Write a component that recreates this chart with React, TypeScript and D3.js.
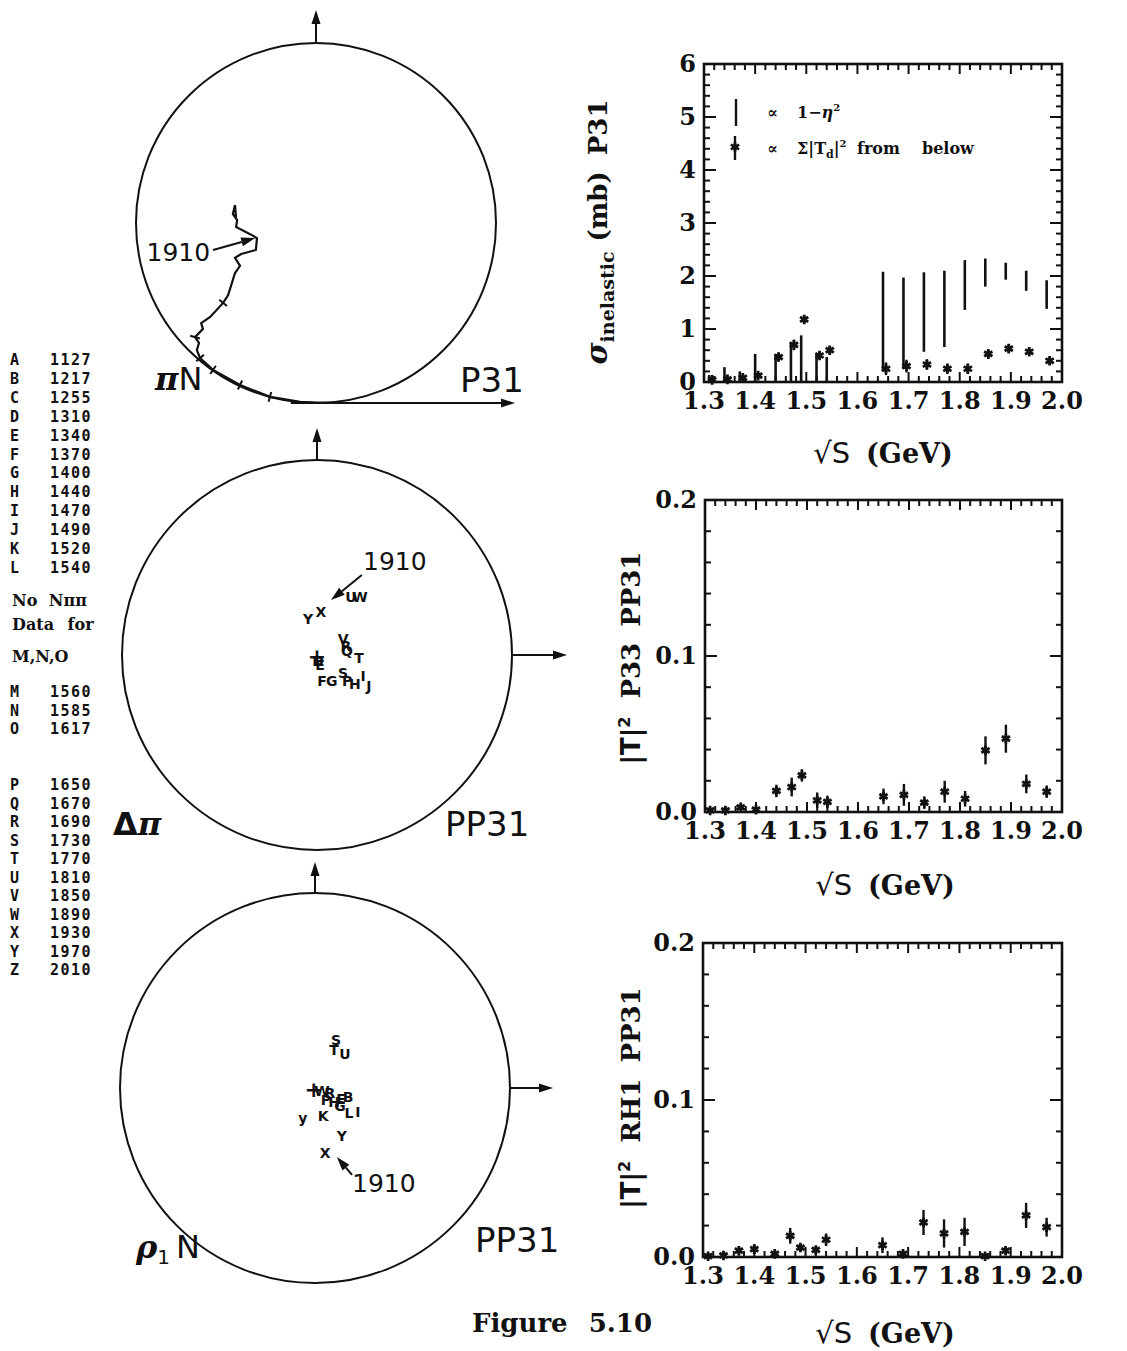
import React from 'react';
import * as d3 from 'd3';

// ---------- data ----------
const energies = [1.31, 1.34, 1.37, 1.40, 1.44, 1.47, 1.49, 1.52, 1.54, 1.65, 1.69, 1.73, 1.77, 1.81, 1.85, 1.89, 1.93, 1.97];
// proportional to 1 - eta^2 (range bars)
const etaLo = [0, 0, 0, 0, 0, 0, 0, 0, 0, 0.2, 0.25, 0.57, 0.66, 1.36, 1.8, 1.93, 1.72, 1.38];
const etaHi = [0.13, 0.28, 0.2, 0.53, 0.53, 0.75, 0.88, 0.53, 0.47, 2.08, 1.97, 2.07, 2.1, 2.3, 2.33, 2.25, 2.1, 1.92];
// proportional to sum |Td|^2 from below
const tdSum = [0.04, 0.05, 0.08, 0.12, 0.47, 0.7, 1.18, 0.5, 0.6, 0.25, 0.3, 0.33, 0.25, 0.25, 0.53, 0.63, 0.57, 0.4];
const tdSumErr = [0.03, 0.03, 0.04, 0.05, 0.08, 0.1, 0.08, 0.07, 0.06, 0.12, 0.12, 0.1, 0.1, 0.1, 0.09, 0.08, 0.07, 0.07];
// |T|^2 P33 PP31
const delPiT2 = [0.001, 0.001, 0.003, 0.0015, 0.0135, 0.016, 0.0235, 0.0075, 0.0065, 0.010, 0.011, 0.006, 0.013, 0.0085, 0.0395, 0.047, 0.018, 0.013];
const delPiErr = [0.0005, 0.0005, 0.001, 0.001, 0.004, 0.006, 0.004, 0.005, 0.004, 0.005, 0.007, 0.004, 0.007, 0.005, 0.009, 0.009, 0.006, 0.004];
// |T|^2 RH1 PP31
const rhoT2 = [0.0005, 0.001, 0.004, 0.005, 0.002, 0.0135, 0.006, 0.0045, 0.011, 0.0075, 0.002, 0.022, 0.015, 0.016, 0.0005, 0.004, 0.0265, 0.019];
const rhoErr = [0.0005, 0.0005, 0.003, 0.003, 0.001, 0.005, 0.002, 0.002, 0.004, 0.005, 0.002, 0.008, 0.009, 0.009, 0.0005, 0.002, 0.008, 0.006];

const xTickLabels = ['1.3', '1.4', '1.5', '1.6', '1.7', '1.8', '1.9', '2.0'];
const sigmaTickLabels = ['0', '1', '2', '3', '4', '5', '6'];
const t2TickLabels = ['0.0', '0.1', '0.2'];

const waveLettersA = ['A', 'B', 'C', 'D', 'E', 'F', 'G', 'H', 'I', 'J', 'K', 'L'];
const waveMassesA = [1127, 1217, 1255, 1310, 1340, 1370, 1400, 1440, 1470, 1490, 1520, 1540];
const waveLettersM = ['M', 'N', 'O'];
const waveMassesM = [1560, 1585, 1617];
const waveLettersP = ['P', 'Q', 'R', 'S', 'T', 'U', 'V', 'W', 'X', 'Y', 'Z'];
const waveMassesP = [1650, 1670, 1690, 1730, 1770, 1810, 1850, 1890, 1930, 1970, 2010];

// piN P31 Argand trajectory (Re, Im), unitarity circle
const piNRe = [0.03, -0.044, -0.128, -0.211, -0.286, -0.322, -0.331, -0.325, -0.336, -0.314, -0.319, -0.294, -0.258, -0.244, -0.225, -0.211, -0.225, -0.208, -0.167, -0.164, -0.183, -0.222, -0.219, -0.231, -0.225, -0.222];
const piNIm = [0.0, 0.003, 0.017, 0.05, 0.092, 0.125, 0.147, 0.167, 0.183, 0.206, 0.222, 0.239, 0.278, 0.3, 0.361, 0.381, 0.403, 0.414, 0.425, 0.458, 0.469, 0.489, 0.508, 0.525, 0.55, 0.514];
const piNTickIdx = [2, 3, 4, 5, 8, 12];

// Delta pi PP31 letters
const delLabels = ['Y', 'X', 'U', 'W', 'V', 'R', 'Q', 'T', '+', 'D', 'E', 'F', 'G', 'S', 'P', 'H', 'I', 'J'];
const delRe = [-0.023, 0.010, 0.087, 0.110, 0.067, 0.074, 0.077, 0.108, 0.0, 0.003, 0.008, 0.013, 0.038, 0.067, 0.077, 0.097, 0.118, 0.133];
const delIm = [0.092, 0.110, 0.149, 0.149, 0.041, 0.023, 0.011, -0.008, -0.003, -0.015, -0.025, -0.067, -0.067, -0.046, -0.067, -0.074, -0.054, -0.079];

// rho1 N PP31 letters
const rhoLabels = ['S', 'T', 'U', '+', 'W', 'R', 'P', 'H', 'E', 'B', 'G', 'L', 'I', 'K', 'y', 'Y', 'X'];
const rhoRe = [0.054, 0.049, 0.077, -0.003, 0.018, 0.038, 0.028, 0.049, 0.067, 0.085, 0.064, 0.087, 0.110, 0.021, -0.031, 0.069, 0.026];
const rhoIm = [0.123, 0.097, 0.087, -0.005, -0.008, -0.013, -0.031, -0.036, -0.028, -0.023, -0.046, -0.064, -0.062, -0.072, -0.077, -0.123, -0.167];

// ---------- styles ----------
const serif = "'DejaVu Serif', 'Liberation Serif', serif";
const sans = "'DejaVu Sans', 'Liberation Sans', sans-serif";
const mono = "'DejaVu Sans Mono', 'Liberation Mono', monospace";
const ink = '#111';

const asterisk = d3.symbol(d3.symbolAsterisk, 64)() as string;

type PanelProps = {
  x0: number; x1: number; y0: number; y1: number;
  yMax: number; yStep: number; yMajorEvery: number; yLabels: string[];
  children: (xs: d3.ScaleLinear<number, number>, ys: d3.ScaleLinear<number, number>) => React.ReactNode;
};

function Panel({ x0, x1, y0, y1, yMax, yStep, yMajorEvery, yLabels, children }: PanelProps) {
  const xs = d3.scaleLinear().domain([1.3, 2.0]).range([x0, x1]);
  const ys = d3.scaleLinear().domain([0, yMax]).range([y1, y0]);
  const nx = 35;
  const xTicks = d3.range(0, nx + 1).map((i) => ({ v: 1.3 + i * 0.02, major: i % 5 === 0 }));
  const ny = Math.round(yMax / yStep);
  const yTicks = d3.range(0, ny + 1).map((i) => ({ v: i * yStep, major: i % yMajorEvery === 0 }));
  const majorVals = yTicks.filter((t) => t.major);
  return (
    <g>
      {xTicks.map((t, i) => {
        const L = t.major ? 10 : 6;
        return (
          <g key={'xt' + i}>
            <line x1={xs(t.v)} x2={xs(t.v)} y1={y1} y2={y1 - L} stroke={ink} strokeWidth={2} />
            <line x1={xs(t.v)} x2={xs(t.v)} y1={y0} y2={y0 + L} stroke={ink} strokeWidth={2} />
          </g>
        );
      })}
      {yTicks.map((t, i) => {
        const L = t.major ? 12 : 6;
        return (
          <g key={'yt' + i}>
            <line x1={x0} x2={x0 + L} y1={ys(t.v)} y2={ys(t.v)} stroke={ink} strokeWidth={2} />
            <line x1={x1} x2={x1 - L} y1={ys(t.v)} y2={ys(t.v)} stroke={ink} strokeWidth={2} />
          </g>
        );
      })}
      <rect x={x0} y={y0} width={x1 - x0} height={y1 - y0} fill="none" stroke={ink} strokeWidth={2.6} />
      {xTickLabels.map((lab, i) => (
        <text key={'xl' + i} x={xs(1.3 + i * 0.1)} y={y1 + 27} textAnchor="middle" fontFamily={serif} fontWeight="bold" fontSize={24} fill={ink}>{lab}</text>
      ))}
      {majorVals.map((t, i) => (
        <text key={'yl' + i} x={x0 - 8} y={ys(t.v) + 8} textAnchor="end" fontFamily={serif} fontWeight="bold" fontSize={24} fill={ink}>{yLabels[i]}</text>
      ))}
      {children(xs, ys)}
    </g>
  );
}

function StarPoint({ x, y, yLo, yHi }: { x: number; y: number; yLo: number; yHi: number }) {
  return (
    <g>
      <line x1={x} x2={x} y1={yLo} y2={yHi} stroke={ink} strokeWidth={2.4} />
      <path d={asterisk} transform={`translate(${x},${y})`} fill="none" stroke={ink} strokeWidth={2.8} />
    </g>
  );
}

function Arrow({ x1, y1, x2, y2 }: { x1: number; y1: number; x2: number; y2: number }) {
  const ang = Math.atan2(y2 - y1, x2 - x1);
  const hl = 14, hw = 4.5;
  const bx = x2 - hl * Math.cos(ang), by = y2 - hl * Math.sin(ang);
  const px = -Math.sin(ang) * hw, py = Math.cos(ang) * hw;
  return (
    <g>
      <line x1={x1} y1={y1} x2={bx} y2={by} stroke={ink} strokeWidth={2} />
      <polygon points={`${x2},${y2} ${bx + px},${by + py} ${bx - px},${by - py}`} fill={ink} />
    </g>
  );
}

function XTitle({ cx, y }: { cx: number; y: number }) {
  return (
    <text x={cx} y={y} textAnchor="middle" fontSize={27} fill={ink}>
      <tspan fontFamily={sans} fontSize={29}>√S</tspan>
      <tspan fontFamily={serif} fontWeight="bold" dx={16}>(GeV)</tspan>
    </text>
  );
}

export default function App() {
  // circles
  const c1 = { cx: 316, cy: 223, r: 180 };
  const c2 = { cx: 317, cy: 655, r: 195 };
  const c3 = { cx: 315, cy: 1088, r: 195 };

  const a1x = d3.scaleLinear().domain([-0.5, 0.5]).range([c1.cx - c1.r, c1.cx + c1.r]);
  const a1y = d3.scaleLinear().domain([0, 1]).range([c1.cy + c1.r, c1.cy - c1.r]);
  const a2x = d3.scaleLinear().domain([-0.5, 0.5]).range([c2.cx - c2.r, c2.cx + c2.r]);
  const a2y = d3.scaleLinear().domain([-0.5, 0.5]).range([c2.cy + c2.r, c2.cy - c2.r]);
  const a3x = d3.scaleLinear().domain([-0.5, 0.5]).range([c3.cx - c3.r, c3.cx + c3.r]);
  const a3y = d3.scaleLinear().domain([-0.5, 0.5]).range([c3.cy + c3.r, c3.cy - c3.r]);

  const piNPts: [number, number][] = piNRe.map((re, i) => [a1x(re), a1y(piNIm[i])]);
  const piNLine = d3.line()(piNPts) as string;

  const listY0 = 360, listDy = 18.9;
  const listYM = 692, listDyM = 18.5;
  const listYP = 785, listDyP = 18.5;

  return (
    <svg width={1127} height={1351} style={{ position: 'absolute', left: 0, top: 0, background: '#fff' }}>
      <rect x={0} y={0} width={1127} height={1351} fill="#fff" />

      {/* ---------- circle 1: piN P31 ---------- */}
      <circle cx={c1.cx} cy={c1.cy} r={c1.r} fill="none" stroke={ink} strokeWidth={2} />
      <Arrow x1={c1.cx} y1={c1.cy - c1.r} x2={c1.cx} y2={10} />
      <Arrow x1={a1x(-0.07)} y1={a1y(0)} x2={515} y2={a1y(0)} />
      <path d={piNLine} fill="none" stroke={ink} strokeWidth={2.2} />
      {piNTickIdx.map((idx) => {
        const [x, y] = piNPts[idx];
        const [xa, ya] = piNPts[idx - 1];
        const [xb, yb] = piNPts[idx + 1];
        const dx = xb - xa, dy = yb - ya;
        const len = Math.hypot(dx, dy) || 1;
        const nx = -dy / len * 5, ny = dx / len * 5;
        return <line key={'pt' + idx} x1={x - nx} y1={y - ny} x2={x + nx} y2={y + ny} stroke={ink} strokeWidth={2} />;
      })}
      <text x={a1x(-0.294)} y={a1y(0.394)} textAnchor="end" fontFamily={sans} fontSize={25} fill={ink}>1910</text>
      <Arrow x1={a1x(-0.286)} y1={a1y(0.425)} x2={a1x(-0.169)} y2={a1y(0.458)} />
      <text x={155} y={390} fontSize={32} fill={ink}>
        <tspan fontFamily={serif} fontStyle="italic" fontWeight="bold">π</tspan>
        <tspan fontFamily={sans}>N</tspan>
      </text>
      <text x={460} y={392} fontFamily={sans} fontSize={34} fill={ink}>P31</text>

      {/* ---------- circle 2: Delta pi PP31 ---------- */}
      <circle cx={c2.cx} cy={c2.cy} r={c2.r} fill="none" stroke={ink} strokeWidth={2} />
      <Arrow x1={c2.cx} y1={c2.cy - c2.r} x2={c2.cx} y2={428} />
      <Arrow x1={c2.cx + c2.r} y1={c2.cy} x2={567} y2={c2.cy} />
      {delLabels.map((lab, i) => (
        <text key={'dl' + i} x={a2x(delRe[i])} y={a2y(delIm[i])} textAnchor="middle" dominantBaseline="central"
          fontFamily={sans} fontWeight="bold" fontSize={lab === '+' ? 22 : 14} fill={ink}>{lab}</text>
      ))}
      <text x={a2x(0.118)} y={a2y(0.218)} fontFamily={sans} fontSize={25} fill={ink}>1910</text>
      <Arrow x1={a2x(0.115)} y1={a2y(0.205)} x2={a2x(0.036)} y2={a2y(0.141)} />
      <text x={113} y={835} fontSize={32} fill={ink}>
        <tspan fontFamily={sans} fontWeight="bold">Δ</tspan>
        <tspan fontFamily={serif} fontStyle="italic" fontWeight="bold">π</tspan>
      </text>
      <text x={445} y={836} fontFamily={sans} fontSize={34} fill={ink}>PP31</text>

      {/* ---------- circle 3: rho1 N PP31 ---------- */}
      <circle cx={c3.cx} cy={c3.cy} r={c3.r} fill="none" stroke={ink} strokeWidth={2} />
      <Arrow x1={c3.cx} y1={c3.cy - c3.r} x2={c3.cx} y2={862} />
      <Arrow x1={c3.cx + c3.r} y1={c3.cy} x2={553} y2={c3.cy} />
      {rhoLabels.map((lab, i) => (
        <text key={'rl' + i} x={a3x(rhoRe[i])} y={a3y(rhoIm[i])} textAnchor="middle" dominantBaseline="central"
          fontFamily={sans} fontWeight="bold" fontSize={lab === '+' ? 22 : 14} fill={ink}>{lab}</text>
      ))}
      <text x={a3x(0.095)} y={a3y(-0.267)} fontFamily={sans} fontSize={25} fill={ink}>1910</text>
      <Arrow x1={a3x(0.095)} y1={a3y(-0.223)} x2={a3x(0.056)} y2={a3y(-0.177)} />
      <text x={136} y={1258} fontSize={32} fill={ink}>
        <tspan fontFamily={serif} fontStyle="italic" fontWeight="bold">ρ</tspan>
        <tspan fontFamily={sans} fontSize={20} dy={6}>1</tspan>
        <tspan fontFamily={sans} dy={-6} dx={6}>N</tspan>
      </text>
      <text x={475} y={1252} fontFamily={sans} fontSize={34} fill={ink}>PP31</text>

      {/* ---------- wave list ---------- */}
      {waveLettersA.map((l, i) => (
        <g key={'la' + i}>
          <text x={10} y={listY0 + i * listDy + 5} fontFamily={mono} fontWeight="bold" fontSize={15} fill={ink}>{l}</text>
          <text x={50} y={listY0 + i * listDy + 5} fontFamily={mono} fontWeight="bold" fontSize={15} letterSpacing={1.5} fill={ink}>{waveMassesA[i]}</text>
        </g>
      ))}
      <text x={12} y={606} fontFamily={serif} fontWeight="bold" fontSize={16} fill={ink} wordSpacing={6}>No Nππ</text>
      <text x={12} y={630} fontFamily={serif} fontWeight="bold" fontSize={16} fill={ink} wordSpacing={8}>Data for</text>
      <text x={12} y={662} fontFamily={serif} fontWeight="bold" fontSize={16} fill={ink}>M,N,O</text>
      {waveLettersM.map((l, i) => (
        <g key={'lm' + i}>
          <text x={10} y={listYM + i * listDyM + 5} fontFamily={mono} fontWeight="bold" fontSize={15} fill={ink}>{l}</text>
          <text x={50} y={listYM + i * listDyM + 5} fontFamily={mono} fontWeight="bold" fontSize={15} letterSpacing={1.5} fill={ink}>{waveMassesM[i]}</text>
        </g>
      ))}
      {waveLettersP.map((l, i) => (
        <g key={'lp' + i}>
          <text x={10} y={listYP + i * listDyP + 5} fontFamily={mono} fontWeight="bold" fontSize={15} fill={ink}>{l}</text>
          <text x={50} y={listYP + i * listDyP + 5} fontFamily={mono} fontWeight="bold" fontSize={15} letterSpacing={1.5} fill={ink}>{waveMassesP[i]}</text>
        </g>
      ))}

      {/* ---------- top right: sigma inelastic ---------- */}
      <Panel x0={704} x1={1062} y0={64} y1={382} yMax={6} yStep={0.2} yMajorEvery={5} yLabels={sigmaTickLabels}>
        {(xs, ys) => (
          <g>
            {energies.map((e, i) => (
              <line key={'eb' + i} x1={xs(e)} x2={xs(e)} y1={ys(etaLo[i])} y2={ys(etaHi[i])} stroke={ink} strokeWidth={2.6} />
            ))}
            {energies.map((e, i) => (
              <StarPoint key={'ts' + i} x={xs(e) + 3} y={ys(tdSum[i])} yLo={ys(Math.max(0, tdSum[i] - tdSumErr[i]))} yHi={ys(tdSum[i] + tdSumErr[i])} />
            ))}
            {/* legend */}
            <line x1={736} x2={736} y1={99} y2={126} stroke={ink} strokeWidth={2.4} />
            <text x={767} y={118} fontFamily={serif} fontWeight="bold" fontSize={16} fill={ink}>∝</text>
            <text x={797} y={118} fontFamily={serif} fontWeight="bold" fontSize={16} fill={ink}>
              1−<tspan fontStyle="italic">η</tspan><tspan fontSize={10} dy={-7}>2</tspan>
            </text>
            <StarPoint x={735} y={147} yLo={160} yHi={136} />
            <text x={767} y={154} fontFamily={serif} fontWeight="bold" fontSize={16} fill={ink}>∝</text>
            <text x={797} y={154} fontFamily={serif} fontWeight="bold" fontSize={16} fill={ink}>
              Σ|T<tspan fontSize={11} dy={4}>d</tspan><tspan dy={-4}>|</tspan><tspan fontSize={10} dy={-7}>2</tspan>
            </text>
            <text x={857} y={154} fontFamily={serif} fontWeight="bold" fontSize={16} fill={ink}>from</text>
            <text x={922} y={154} fontFamily={serif} fontWeight="bold" fontSize={16} fill={ink}>below</text>
          </g>
        )}
      </Panel>
      <text transform="translate(607,232) rotate(-90)" textAnchor="middle" fontFamily={serif} fontWeight="bold" fontSize={26} fill={ink}>
        <tspan fontStyle="italic" fontSize={30}>σ</tspan>
        <tspan fontSize={19} dy={7}>inelastic</tspan>
        <tspan dy={-7} dx={10}>(mb)</tspan>
        <tspan dx={16}>P31</tspan>
      </text>
      <XTitle cx={883} y={463} />

      {/* ---------- middle right: Delta pi ---------- */}
      <Panel x0={705} x1={1062} y0={500} y1={812} yMax={0.2} yStep={0.02} yMajorEvery={5} yLabels={t2TickLabels}>
        {(xs, ys) => (
          <g>
            {energies.map((e, i) => (
              <StarPoint key={'ds' + i} x={xs(e)} y={ys(delPiT2[i])} yLo={ys(Math.max(0, delPiT2[i] - delPiErr[i]))} yHi={ys(delPiT2[i] + delPiErr[i])} />
            ))}
          </g>
        )}
      </Panel>
      <text transform="translate(640,658) rotate(-90)" textAnchor="middle" fontFamily={serif} fontWeight="bold" fontSize={26} fill={ink}>
        <tspan fontFamily={sans} fontWeight="bold">|T|</tspan><tspan fontFamily={sans} fontWeight="bold" fontSize={16} dy={-10}>2</tspan>
        <tspan dy={10} dx={18}>P33</tspan>
        <tspan dx={16}>PP31</tspan>
      </text>
      <XTitle cx={885} y={895} />

      {/* ---------- bottom right: rho1 N ---------- */}
      <Panel x0={703} x1={1062} y0={943} y1={1257} yMax={0.2} yStep={0.02} yMajorEvery={5} yLabels={t2TickLabels}>
        {(xs, ys) => (
          <g>
            {energies.map((e, i) => (
              <StarPoint key={'rs' + i} x={xs(e)} y={ys(rhoT2[i])} yLo={ys(Math.max(0, rhoT2[i] - rhoErr[i]))} yHi={ys(rhoT2[i] + rhoErr[i])} />
            ))}
          </g>
        )}
      </Panel>
      <text transform="translate(640,1098) rotate(-90)" textAnchor="middle" fontFamily={serif} fontWeight="bold" fontSize={26} fill={ink}>
        <tspan fontFamily={sans} fontWeight="bold">|T|</tspan><tspan fontFamily={sans} fontWeight="bold" fontSize={16} dy={-10}>2</tspan>
        <tspan dy={10} dx={18}>RH1</tspan>
        <tspan dx={16}>PP31</tspan>
      </text>
      <XTitle cx={885} y={1343} />

      <text x={472} y={1332} fontFamily={serif} fontWeight="bold" fontSize={26} fill={ink} wordSpacing={12}>Figure 5.10</text>
    </svg>
  );
}
